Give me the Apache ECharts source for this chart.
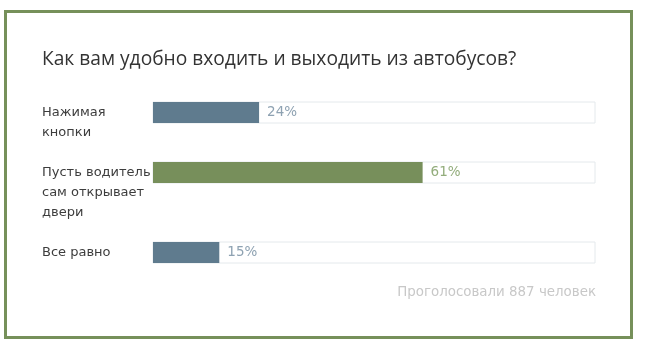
<!DOCTYPE html>
<html><head><meta charset="utf-8">
<script src="https://cdn.jsdelivr.net/npm/echarts@6/dist/echarts.min.js"></script>
<style>html,body{margin:0;padding:0;background:#fff}#c{width:648px;height:364px}</style>
</head><body><div id="c"></div>
<script>
const titleText = 'Как вам удобно входить и выходить из автобусов?';
const footerText = 'Проголосовали 887 человек';
const categories = [['Нажимая', 'кнопки'], ['Пусть водитель', 'сам открывает', 'двери'], ['Все равно']];
const values = [24, 61, 15];
const barColors = ['#5f7b8e', '#778f5b', '#5f7b8e'];
const labelColors = ['#8ea2b2', '#93ad7c', '#8ea2b2'];

const FONT = 'DejaVu Sans';
const barTops = [102, 162, 242];
const chart = echarts.init(document.getElementById('c'), null, {renderer: 'canvas'});
const grids = [], xAxes = [], yAxes = [], series = [];
categories.forEach((lines, i) => {
  grids.push({left: 153, right: 53, top: barTops[i], height: 21});
  xAxes.push({type: 'value', gridIndex: i, min: 0, max: 100, show: false});
  const txt = '\n'.repeat(lines.length - 1) + lines.join('\n');
  yAxes.push({type: 'category', gridIndex: i, data: [txt],
    axisLine: {show: false}, axisTick: {show: false}, splitLine: {show: false},
    axisLabel: {align: 'left', margin: 111, fontFamily: FONT, fontSize: 13, color: '#3d3d3d', lineHeight: 20}});
  series.push({type: 'bar', xAxisIndex: i, yAxisIndex: i, data: [values[i]], barWidth: 21,
    itemStyle: {color: barColors[i]},
    showBackground: true,
    backgroundStyle: {color: '#ffffff', borderColor: '#e4e9ec', borderWidth: 1},
    label: {show: true, position: 'right', distance: 8, formatter: '{c}%', fontFamily: FONT, fontSize: 13.5, color: labelColors[i]},
    silent: true, animation: false});
});
chart.setOption({
  animation: false,
  title: [
    {text: titleText, left: 42, top: 50, padding: 0, textStyle: {fontFamily: 'Open Sans', fontSize: 19.2, fontWeight: 'normal', color: '#333'}},
    {text: footerText, right: 52, top: 286, padding: 0, textStyle: {fontFamily: FONT, fontSize: 13.4, fontWeight: 'normal', color: '#c8c8c8'}}
  ],
  graphic: [{type: 'rect', shape: {x: 5.5, y: 11.5, width: 626, height: 326}, style: {fill: 'none', stroke: '#76905a', lineWidth: 3}, silent: true}],
  grid: grids, xAxis: xAxes, yAxis: yAxes, series: series
});
</script></body></html>
